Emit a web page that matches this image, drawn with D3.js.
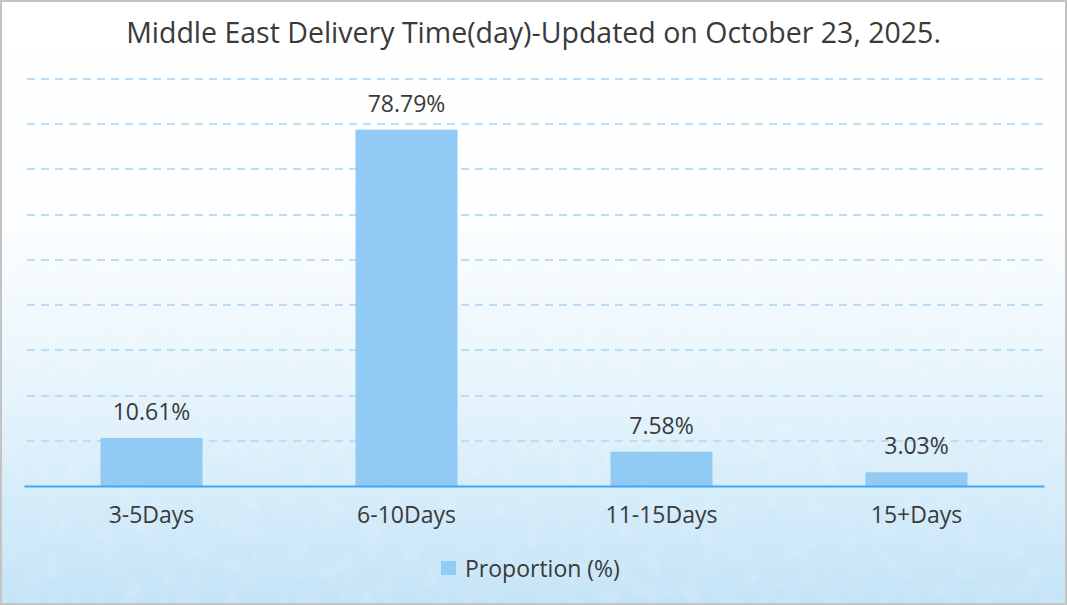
<!DOCTYPE html>
<html><head><meta charset="utf-8">
<script src="https://cdn.jsdelivr.net/npm/d3@7"></script>
<style>html,body{margin:0;padding:0;background:#fff}svg{display:block}</style>
</head><body>
<script>
const categories = ["3-5Days","6-10Days","11-15Days","15+Days"];
const values = [10.61, 78.79, 7.58, 3.03];
const valueLabels = ["10.61%","78.79%","7.58%","3.03%"];
const yTicks = [0,10,20,30,40,50,60,70,80,90];
const seriesName = "Proportion (%)";
const title = "Middle East Delivery Time(day)-Updated on October 23, 2025.";

(function(){
const W = 1067, H = 605;
const font = "'Open Sans', 'Noto Sans', sans-serif";
const svg = d3.select("body").append("svg").attr("width", W).attr("height", H);
const defs = svg.append("defs");
const grad = defs.append("linearGradient").attr("id","bg").attr("x1",0).attr("y1",0).attr("x2",0).attr("y2",1);
grad.append("stop").attr("offset","0%").attr("stop-color","#ffffff");
grad.append("stop").attr("offset","35%").attr("stop-color","#fdfeff");
grad.append("stop").attr("offset","62%").attr("stop-color","#e8f5fc");
grad.append("stop").attr("offset","100%").attr("stop-color","#c4e4f7");
const filt = defs.append("filter").attr("id","noise").attr("x",0).attr("y",0).attr("width","100%").attr("height","100%");
filt.append("feTurbulence").attr("type","fractalNoise").attr("baseFrequency","0.05").attr("numOctaves",3).attr("seed",4).attr("result","n");
filt.append("feColorMatrix").attr("in","n").attr("type","matrix")
  .attr("values","0 0 0 0 1  0 0 0 0 1  0 0 0 0 1  0 0 0 -1.2 0.65").attr("result","a");
filt.append("feComposite").attr("in","a").attr("in2","SourceGraphic").attr("operator","in");

svg.append("rect").attr("x",1).attr("y",1).attr("width",W-2).attr("height",H-2)
  .attr("fill","url(#bg)").attr("stroke","#c3c3c3").attr("stroke-width",2);
svg.append("rect").attr("x",2).attr("y",2).attr("width",W-4).attr("height",H-4)
  .attr("fill","url(#bg)").attr("filter","url(#noise)").attr("opacity",0.3);

const mLeft = 24, mRight = 1044, mTop = 79, mBottom = 486;
const x = d3.scaleBand().domain(categories).range([mLeft, mRight]).padding(0);
const y = d3.scaleLinear().domain([0, 90]).range([mBottom, mTop]);

svg.append("text").attr("x", W/2).attr("y", 43).attr("text-anchor","middle")
  .attr("font-family", font).attr("font-size", 28.5).attr("fill","#3a3a3a").text(title);

svg.append("g").selectAll("line").data(yTicks.filter(d => d > 0)).join("line")
  .attr("x1", mLeft + 3).attr("x2", mRight).attr("y1", d => Math.round(y(d))).attr("y2", d => Math.round(y(d)))
  .attr("stroke","#bcddf6").attr("stroke-width",2).attr("stroke-dasharray","8,6");

const bw = x.bandwidth()*0.4;
svg.append("g").selectAll("rect").data(values).join("rect")
  .attr("x", (d,i) => x(categories[i]) + (x.bandwidth()-bw)/2)
  .attr("width", bw)
  .attr("y", d => y(d))
  .attr("height", d => mBottom - y(d))
  .attr("fill","#90caf5");

svg.append("g").selectAll("text").data(values).join("text")
  .attr("x", (d,i) => x(categories[i]) + x.bandwidth()/2)
  .attr("y", d => y(d) - 18)
  .attr("text-anchor","middle").attr("font-family",font).attr("font-size",23).attr("fill","#3a3a3a")
  .text((d,i) => valueLabels[i]);

const xAxis = svg.append("g").attr("transform", `translate(0,${mBottom})`)
  .call(d3.axisBottom(x).tickSize(0).tickPadding(21));
xAxis.select(".domain").attr("stroke","#42a5f5").attr("stroke-width",2);
xAxis.selectAll("text").attr("font-family",font).attr("font-size",23).attr("fill","#3a3a3a");

const lg = svg.append("g");
lg.append("rect").attr("x",441).attr("y",561).attr("width",15).attr("height",14).attr("fill","#90caf5");
lg.append("text").attr("x",465).attr("y",577).attr("font-family",font).attr("font-size",23).attr("fill","#3a3a3a").text(seriesName);
})();
</script>
</body></html>
